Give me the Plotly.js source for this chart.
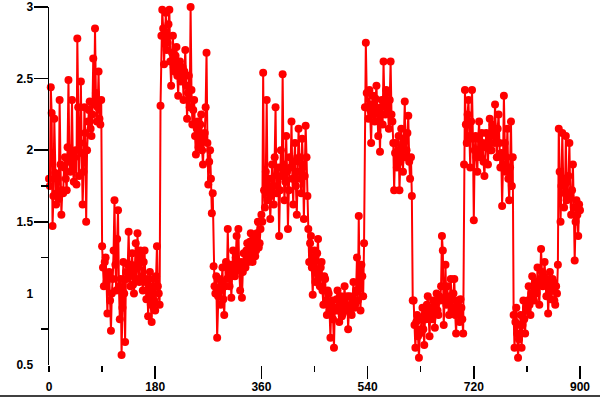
<!DOCTYPE html>
<html>
<head>
<meta charset="utf-8">
<script src="https://cdn.plot.ly/plotly-3.0.1.min.js"></script>
<style>
  html, body { margin: 0; padding: 0; background: #ffffff; }
  #chart { width: 600px; height: 402px; }
</style>
</head>
<body>
<div id="chart"></div>
<script>
// sample spacing (Plotly places sample i at x0 + i*dx)
const sampleStart = 0;
const sampleStep = 1.5;

// series values
const seg1 = [1.80,1.75,2.44,2.26,1.47,1.68,2.22,1.84,1.62,1.70,1.80,1.66,2.35,1.90,1.55,1.72,1.70,1.88,1.95,1.80,
              1.72,2.02,2.49,1.92,1.85,1.98,2.35,1.88,1.78,1.95,2.00,1.76,2.78,2.30,1.82,2.05,2.48,1.98,1.62,1.85,
              2.30,2.12,1.50,2.00,2.20,2.28,2.34,2.15,2.10,2.25,2.64,2.32,2.85,2.40,2.20,2.30,2.55,2.22,2.18,2.35];
const seg2 = [1.33,1.18,1.05,1.22,1.25,1.08,0.86,1.12,1.15,0.95,0.74,1.00,1.10,1.30,1.65,1.20,1.02,1.38,1.58,1.05,
              0.82,1.10,0.57,0.90,1.22,1.00,0.66,1.15,1.10,1.20,1.43,1.12,1.05,1.20,1.28,1.06,1.00,1.18,1.35,1.10,
              1.42,1.20,1.08,1.30,1.25,1.12,1.02,1.22,1.30,1.08,0.96,1.10,0.84,1.02,1.15,0.92,0.80,1.05,1.10,0.95,
              0.88,1.12,1.33,1.05,1.00,0.92,2.31,2.80];
const seg3 = [2.98,2.85,2.60,2.78,2.96,2.70,2.75,2.88,2.98,2.62,2.45,2.68,2.80,2.58,2.55,2.66,2.72,2.52,2.38,2.60,
              2.62,2.48,2.50,2.58,2.35,2.55,2.70,2.45,2.22,2.40,2.52,2.30,3.00,2.42,2.18,2.28,2.35,2.10,1.97,2.15,
              2.20,2.02,2.05,2.18,2.25,2.00,1.90,2.08,2.12,2.30,2.68,2.05,1.76,1.92,2.00,1.80,1.56,1.70,1.19,1.05];
const seg4 = [1.00,1.12,0.69,0.98,1.10,1.02,0.92,1.08,1.18,0.96,0.85,1.05,1.22,1.10,1.45,1.15,1.05,1.20,0.97,1.14,
              1.30,1.18,1.12,1.25,1.40,1.20,1.45,1.16,1.02,1.22,0.97,1.15,1.28,1.20,1.18,1.30,1.35,1.22,1.25,1.36,
              1.42,1.28,1.22,1.34,1.38,1.26,1.30,1.42,1.50,1.32,1.35,1.45,1.55,1.50,2.54,1.72,1.60,1.85,2.35,1.65,
              1.70,1.80,1.52,1.68,1.90,1.75,1.62,1.95,2.30,1.70,1.75,1.88,1.40,1.72,2.00,1.82,2.53,1.90,1.65,1.78,
              2.10,1.85,1.45,1.72,1.95,1.88,2.20,1.80,1.62,1.92,2.05,1.75,1.55,1.85,2.15,1.95,1.80,1.70,2.08,1.90,
              1.52,1.82,2.17,1.95,1.68,1.45,1.22,1.35];
const seg5 = [1.40,1.18,0.99,1.25,1.30,1.08,1.15,1.28,1.38,1.12,1.05,1.18,1.22,1.02,0.92,1.12,1.10,0.95,0.85,1.02,
              1.00,0.88,0.69,0.92,0.95,0.82,0.62,0.90,0.88,0.96,1.02,0.88,0.80,0.92,0.98,0.84,0.86,0.95,1.05,0.88,
              0.90,0.98,0.75,0.90,0.98,0.86,0.85,0.95,1.08,0.90,0.92,1.02,1.25,0.95,1.54,1.05,0.88,1.20,1.12,0.98,
              1.35,2.30];
const seg6 = [2.75,2.40,2.30,2.22,2.42,2.28,2.05,2.32,2.38,2.25,2.20,2.36,2.45,2.28,2.10,2.25,1.99,2.30,2.35,2.18,
              2.62,2.32,2.25,2.42,2.40,2.28,2.15,2.35,2.62,2.25,2.20,2.05,1.72,1.98,2.05,1.88,1.95,2.10,1.72,1.92,
              2.15,2.02,1.85,2.08,2.34,1.95,2.00,2.12,2.24,1.92,1.80,1.95,1.68,0.95];
const seg7 = [0.95,0.78,0.62,0.80,0.85,0.70,0.55,0.72,0.75,0.82,0.90,0.75,0.64,0.86,0.82,0.92,0.98,0.84,0.70,0.90,
              0.88,0.82,0.95,0.86,0.76,0.92,1.00,0.88,0.85,0.98,0.95,1.05,1.40,1.30,0.78,0.95,1.20,0.92,1.05,0.95,
              0.85,0.98,1.10,0.88,0.90,1.00,1.10,0.85,0.72,0.92,0.95,0.85,0.80,0.96,0.90,0.82,0.72,1.90];
const seg8 = [2.42,2.18,2.05,2.25,2.35,2.10,1.88,2.20,2.42,2.08,1.51,2.00,2.10,1.95,1.85,2.08,2.20,1.98,1.95,2.12,
              2.05,1.92,1.82,2.02,2.12,2.05,1.90,2.10,2.22,2.00,2.00,2.18,2.15,2.05,2.32,2.12,1.95,2.15,2.25,2.05,
              1.88,1.98,1.61,1.90,2.38,2.05,1.85,1.95,2.15,1.80,1.65,1.88,2.20,1.75,1.95,0.85];
const seg9 = [0.62,0.80,0.90,0.72,0.55,0.68,0.78,0.85,0.62,0.78,0.95,0.82,0.72,0.90,0.88,0.95,1.05,0.92,0.85,1.00,
              1.12,0.98,0.95,1.05,1.08,1.00,1.18,1.06,0.92,1.10,1.31,1.15,1.05,1.12,1.22,1.08,0.98,1.10,0.86,1.00,
              1.15,0.96,1.02,1.10,1.08,0.95,0.92,1.05,1.00,1.20];
const seg10 = [2.15,1.85,1.50,1.75,2.12,1.80,1.60,1.70,2.10,1.65,1.70,1.82,2.05,1.68,1.55,1.72,1.90,1.60,1.23,1.50,
               1.65,1.55,1.40,1.62,1.58];

// tick labels
const xTickVals = [0, 180, 360, 540, 720, 900];
const xTickText = ['0', '180', '360', '540', '720', '900'];
const xLongTicks = [180, 360, 540, 720, 900];
const xShortTicks = [0, 90, 450, 630, 810];
const yTickVals = [0.5, 1, 1.5, 2, 2.5, 3];
const yTickText = ['0.5', '1', '1.5', '2', '2.5', '3'];
const yLongTicks = [1.5, 2, 2.5, 3];
const yShortTicks = [0.75, 1.25, 1.75];

const yValues = [].concat(seg1, seg2, seg3, seg4, seg5, seg6, seg7, seg8, seg9, seg10);

const red = '#ff0000';
const tickFont = { family: 'Liberation Sans, Arial, sans-serif', size: 12, color: '#000000', weight: 'bold' };

const traces = [
  {
    type: 'scatter',
    mode: 'lines+markers',
    x0: sampleStart, dx: sampleStep,
    y: yValues,
    line: { color: red, width: 2 },
    marker: { color: red, size: 8, symbol: 'circle' },
    cliponaxis: false,
    hoverinfo: 'skip',
    showlegend: false
  },
  {
    type: 'scatter',
    mode: 'lines',
    x0: sampleStart, dx: sampleStep,
    y: yValues,
    xaxis: 'x2', yaxis: 'y2',
    line: { color: 'rgba(0,0,0,0)', width: 0 },
    opacity: 0,
    hoverinfo: 'skip',
    showlegend: false
  }
];

const layout = {
  width: 600, height: 402,
  margin: { l: 49, r: 20, t: 7, b: 37 },
  paper_bgcolor: '#ffffff', plot_bgcolor: '#ffffff',
  showlegend: false,
  xaxis: {
    range: [0, 900], fixedrange: true,
    showgrid: false, zeroline: false, showline: false,
    tickmode: 'array', tickvals: xTickVals, ticktext: xTickText,
    ticks: 'outside', ticklen: 11, tickwidth: 1.5, tickcolor: 'rgba(0,0,0,0)',
    tickfont: tickFont,
    minor: { tickmode: 'array', tickvals: xShortTicks, ticks: 'outside', ticklen: 6, tickwidth: 1.5, tickcolor: '#000000', showgrid: false }
  },
  xaxis2: {
    overlaying: 'x', anchor: 'y', range: [0, 900], fixedrange: true,
    showgrid: false, zeroline: false, showline: false, showticklabels: false,
    tickmode: 'array', tickvals: xLongTicks,
    ticks: 'outside', ticklen: 13, tickwidth: 1.5, tickcolor: '#000000'
  },
  yaxis: {
    range: [0.5, 3], fixedrange: true,
    showgrid: false, zeroline: false,
    showline: true, linecolor: '#000000', linewidth: 1.5,
    tickmode: 'array', tickvals: yTickVals, ticktext: yTickText,
    ticks: 'outside', ticklen: 12, tickwidth: 1.5, tickcolor: 'rgba(0,0,0,0)',
    tickfont: tickFont,
    minor: { tickmode: 'array', tickvals: yShortTicks, ticks: 'outside', ticklen: 7, tickwidth: 1.5, tickcolor: '#000000', showgrid: false }
  },
  yaxis2: {
    overlaying: 'y', anchor: 'x', side: 'left', range: [0.5, 3], fixedrange: true,
    showgrid: false, zeroline: false, showline: false, showticklabels: false,
    tickmode: 'array', tickvals: yLongTicks,
    ticks: 'outside', ticklen: 14, tickwidth: 1.5, tickcolor: '#000000'
  },
  shapes: [
    { type: 'line', xref: 'paper', yref: 'paper',
      x0: -49 / 531, x1: 551 / 531, y0: -31 / 358, y1: -31 / 358,
      line: { color: '#000000', width: 1.5 } }
  ]
};

Plotly.newPlot('chart', traces, layout, { staticPlot: true, displayModeBar: false });
</script>
</body>
</html>
